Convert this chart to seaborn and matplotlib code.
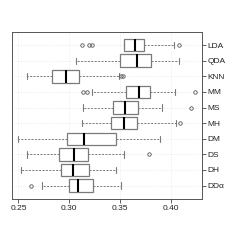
import numpy as np
import pandas as pd
import matplotlib
matplotlib.use("Agg")
import matplotlib.pyplot as plt
import seaborn as sns

methods = ["LDA", "QDA", "KNN", "MM", "MS", "MH", "DM", "DS", "DH", "DDα"]
whis_lo = [0.3220, 0.3066, 0.2582, 0.3220, 0.3131, 0.3122, 0.2500, 0.2582, 0.2524, 0.2732]
q1      = [0.3533, 0.3494, 0.2827, 0.3559, 0.3425, 0.3406, 0.2975, 0.2902, 0.2919, 0.3000]
median  = [0.3647, 0.3664, 0.2971, 0.3683, 0.3546, 0.3536, 0.3147, 0.3046, 0.3033, 0.3088]
q3      = [0.3735, 0.3798, 0.3092, 0.3788, 0.3676, 0.3667, 0.3461, 0.3186, 0.3196, 0.3235]
whis_hi = [0.4026, 0.4079, 0.3487, 0.4036, 0.3912, 0.4046, 0.3886, 0.3539, 0.3461, 0.3510]
out_lo  = [[0.3125, 0.3196], [], [], [0.3137, 0.3176], [], [], [], [], [], [0.2622]]
out_hi  = [[0.4075], [], [0.3507, 0.3529], [0.4232], [0.4193], [0.4088], [], [0.3781], [], []]

# Per-method samples (13 values) whose box statistics equal the values read above:
# q1 at index 3, median at index 6, q3 at index 9.
rows = []
for m, wl, a, md, b, wh, ol, oh in zip(methods, whis_lo, q1, median, q3, whis_hi, out_lo, out_hi):
    low = list(ol) + [wl]
    low = [wl] * (3 - len(low)) + low
    high = [wh] + list(oh)
    high = high + [wh] * (3 - len(high))
    vals = low + [a, a, a, md, b, b, b] + high
    for v in vals:
        rows.append((m, v))
df = pd.DataFrame(rows, columns=["method", "rate"])

sns.set_style("white")
plt.rcParams["font.family"] = ["Liberation Sans", "DejaVu Sans"]

fig = plt.figure(figsize=(2.4, 2.4), dpi=100)
ax = fig.add_axes([0.049, 0.170, 0.791, 0.695])

grey = "#7a7a7a"
sns.boxplot(data=df, x="rate", y="method", order=methods, orient="h",
            width=0.8, whis=1.5, color="white", linecolor=grey, linewidth=0.9,
            fliersize=2.5, ax=ax,
            medianprops=dict(color="black", linewidth=1.5),
            whiskerprops=dict(linestyle=(0, (2, 1.5)), linewidth=0.7, color=grey),
            capprops=dict(linewidth=0.8, color=grey),
            flierprops=dict(marker="o", markerfacecolor="none", markeredgecolor="#555555",
                            markeredgewidth=0.6))

ax.set_xlim(0.2435, 0.4298)
ax.set_ylim(9.87, -0.81)
ax.set_xticks([0.25, 0.30, 0.35, 0.40])
ax.set_xticklabels(["0.25", "0.30", "0.35", "0.40"])
ax.set_xlabel("")
ax.set_ylabel("")
ax.yaxis.tick_right()
ax.tick_params(axis="both", labelsize=6, length=3, width=0.6, color="#444444",
               direction="out", pad=1.5, labelcolor="#222222")
ax.tick_params(axis="x", bottom=True)
ax.tick_params(axis="y", right=True, left=False)
ax.grid(True, color="#e3e3e3", linestyle=(0, (1, 1.5)), linewidth=0.5)
ax.set_axisbelow(True)
for s in ax.spines.values():
    s.set_color("#555555")
    s.set_linewidth(0.7)

fig.savefig("out.png", dpi=100)
